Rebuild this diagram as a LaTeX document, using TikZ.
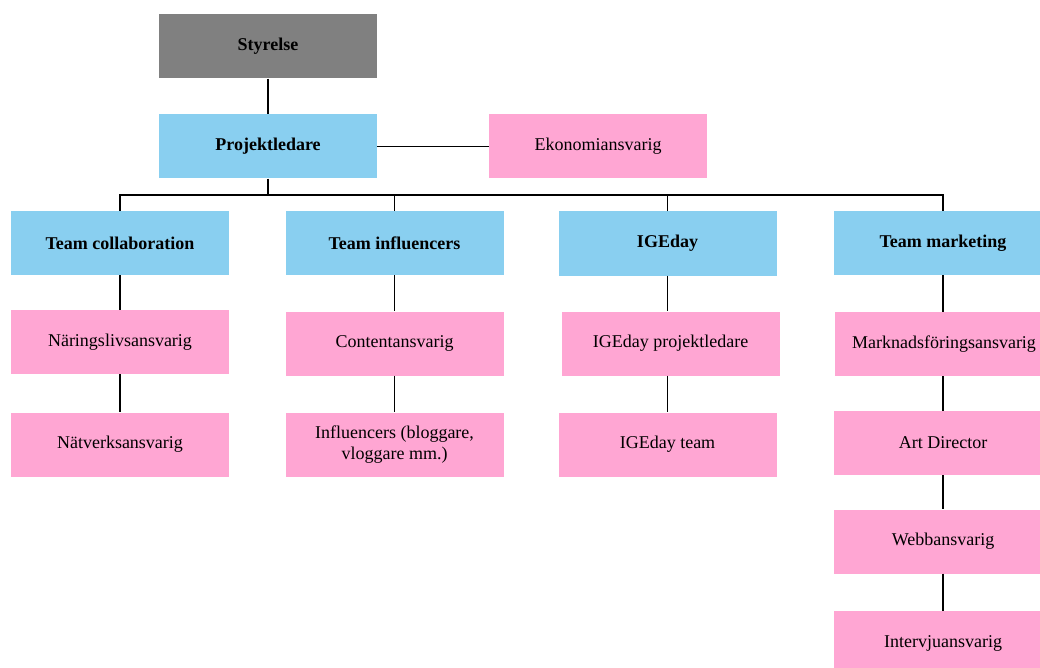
\documentclass[tikz,border=0pt]{standalone}
\usepackage{fontspec}
\setmainfont{Liberation Serif}
\usetikzlibrary{positioning}
\definecolor{boardgray}{HTML}{808080}
\definecolor{teamblue}{HTML}{89CFF0}
\definecolor{rolepink}{HTML}{FFA6D3}
\tikzset{
  box/.style={rectangle,minimum width=218pt,minimum height=64pt,inner sep=0pt,
    align=center,text=black,font=\fontsize{18}{21}\selectfont},
  board/.style={box,fill=boardgray,font=\fontsize{18}{21}\selectfont\bfseries},
  team/.style={box,fill=teamblue,font=\fontsize{18}{21}\selectfont\bfseries},
  role/.style={box,fill=rolepink},
  link/.style={draw=black,line width=1.3pt}
}
\begin{document}
\begin{tikzpicture}[x=1pt,y=-1pt]
  \useasboundingbox (0,0) rectangle (1040,668);

  % top
  \node[board] (styr) at (268,46.5) {Styrelse};
  \node[team] (proj) at (268,146.5) {Projektledare};
  \node[role] (ekon) at (598,146.5) {Ekonomiansvarig};

  % teams
  \node[team] (tcol) at (120,243) {Team collaboration};
  \node[team] (tinf) at (394.5,243) {Team influencers};
  \node[team] (tige) at (667.5,243.5) {IGEday};
  \node[team] (tmkt) at (943,243) {Team marketing};

  % roles
  \node[role] (nar) at (120,342) {Näringslivsansvarig};
  \node[role] (nat) at (120,444.5) {Nätverksansvarig};
  \node[role] (cont) at (394.5,343.5) {Contentansvarig};
  \node[role] (infl) at (394.5,444.5) {Influencers (bloggare,\\vloggare mm.)};
  \node[role] (igpl) at (670.5,343.5) {IGEday projektledare};
  \node[role] (igtm) at (667.5,444.5) {IGEday team};
  \node[role] (mark) at (944,344) {Marknadsföringsansvarig};
  \node[role] (art) at (943,443) {Art Director};
  \node[role] (webb) at (943,541.5) {Webbansvarig};
  \node[role] (intv) at (943,643) {Intervjuansvarig};

  % connectors
  \draw[link] (styr) -- (proj);
  \draw[link] (proj) -- (ekon);
  \coordinate (bus) at (268,195);
  \draw[link] (proj.south) -- (bus);
  \draw[link] (tcol.north) |- (bus) -| (tmkt.north);
  \draw[link] (tinf.north) -- (tinf.north |- bus);
  \draw[link] (tige.north) -- (tige.north |- bus);
  \draw[link] (tcol) -- (nar);
  \draw[link] (nar) -- (nat);
  \draw[link] (tinf) -- (cont);
  \draw[link] (cont) -- (infl);
  \draw[link] (tige) -- (tige |- igpl.north);
  \draw[link] (tige |- igpl.south) -- (tige |- igtm.north);
  \draw[link] (tmkt) -- (tmkt |- mark.north);
  \draw[link] (tmkt |- mark.south) -- (art);
  \draw[link] (art) -- (webb);
  \draw[link] (webb) -- (intv);
\end{tikzpicture}
\end{document}
